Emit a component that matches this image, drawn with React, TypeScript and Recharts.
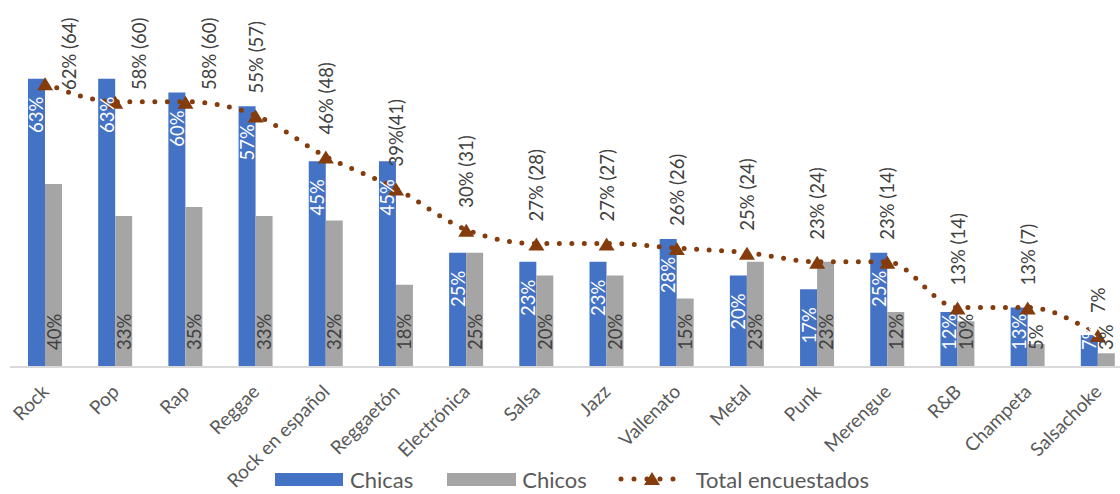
import { Bar, ComposedChart, LabelList, Line, XAxis, YAxis } from "recharts";

const categories = [
  "Rock",
  "Pop",
  "Rap",
  "Reggae",
  "Rock en español",
  "Reggaetón",
  "Electrónica",
  "Salsa",
  "Jazz",
  "Vallenato",
  "Metal",
  "Punk",
  "Merengue",
  "R&B",
  "Champeta",
  "Salsachoke",
];
const chicas = [63, 63, 60, 57, 45, 45, 25, 23, 23, 28, 20, 17, 25, 12, 13, 7];
const chicos = [40, 33, 35, 33, 32, 18, 25, 20, 20, 15, 23, 23, 12, 10, 5, 3];
const total = [62, 58, 58, 55, 46, 39, 30, 27, 27, 26, 25, 23, 23, 13, 13, 7];
const totalLabels = [
  "62% (64)",
  "58% (60)",
  "58% (60)",
  "55% (57)",
  "46% (48)",
  "39%(41)",
  "30% (31)",
  "27% (28)",
  "27% (27)",
  "26% (26)",
  "25% (24)",
  "23% (24)",
  "23% (14)",
  "13% (14)",
  "13% (7)",
  "7%",
];

const data = categories.map((name, i) => ({
  name,
  chicas: chicas[i],
  chicos: chicos[i],
  total: total[i],
  label: totalLabels[i],
}));

const FONT = "Lato, 'Open Sans', sans-serif";
const BLUE = "#4472C4";
const GRAY = "#A5A5A5";
const BROWN = "#843C0C";

// white % inside the top of the blue bars, dropped to the base when the bar is short
function ChicasLabel(props: any) {
  const { x, y, width, height, value } = props;
  const cx = x + width / 2;
  const fits = height > 72;
  const ty = fits ? y + 18 : y + height - 17;
  return (
    <text
      x={cx}
      y={ty}
      transform={`rotate(-90 ${cx} ${ty})`}
      textAnchor={fits ? "end" : "start"}
      dominantBaseline="central"
      fill="#ffffff"
      fontSize={18.5}
      fontFamily={FONT}
    >
      {`${value}%`}
    </text>
  );
}

function ChicosLabel(props: any) {
  const { x, y, width, height, value } = props;
  const cx = x + width / 2;
  const ty = y + height - 17;
  return (
    <text
      x={cx}
      y={ty}
      transform={`rotate(-90 ${cx} ${ty})`}
      textAnchor="start"
      dominantBaseline="central"
      fill="#404040"
      fontSize={18.5}
      fontFamily={FONT}
    >
      {`${value}%`}
    </text>
  );
}

// labels above the points; the tall ones get pushed down and beside the marker
function TotalLabel(props: any) {
  const { x, y, value } = props;
  const raw = y - 22;
  const clamped = raw < 90;
  const ty = clamped ? 90 : raw;
  const tx = clamped ? x + 24 : x;
  return (
    <text
      x={tx}
      y={ty}
      transform={`rotate(-90 ${tx} ${ty})`}
      textAnchor="start"
      dominantBaseline="central"
      fill="#404040"
      fontSize={18.5}
      fontFamily={FONT}
    >
      {value}
    </text>
  );
}

function Triangle(props: any) {
  const { cx, cy, index } = props;
  if (cx == null || cy == null) return <g key={index} />;
  return (
    <path
      key={index}
      d={`M${cx},${cy - 6} L${cx + 8},${cy + 7} L${cx - 8},${cy + 7} Z`}
      fill={BROWN}
    />
  );
}

function CategoryTick(props: any) {
  const { x, y, payload } = props;
  return (
    <g transform={`translate(${x + 5},${y + 26})`}>
      <text
        textAnchor="end"
        transform="rotate(-45)"
        fill="#595959"
        fontSize={19}
        fontFamily={FONT}
      >
        {payload.value}
      </text>
    </g>
  );
}

function ChartLegend() {
  const text = { fontSize: 22, color: "#595959", fontFamily: FONT };
  return (
    <div
      style={{
        position: "absolute",
        left: 275,
        top: 465,
        display: "flex",
        alignItems: "center",
        height: 28,
      }}
    >
      <span style={{ width: 68, height: 13, background: BLUE, marginRight: 7 }} />
      <span style={{ ...text, marginRight: 34 }}>Chicas</span>
      <span style={{ width: 69, height: 13, background: GRAY, marginRight: 6 }} />
      <span style={{ ...text, marginRight: 31 }}>Chicos</span>
      <svg width={70} height={20} style={{ marginRight: 8 }}>
        <line
          x1={3}
          y1={10}
          x2={67}
          y2={10}
          stroke={BROWN}
          strokeWidth={5}
          strokeDasharray="0 13"
          strokeLinecap="round"
        />
        <path d="M34,3 L42,16 L26,16 Z" fill={BROWN} />
      </svg>
      <span style={text}>Total encuestados</span>
    </div>
  );
}

export default function App() {
  return (
    <div
      style={{
        position: "absolute",
        left: 0,
        top: 0,
        width: 1120,
        height: 494,
        overflow: "hidden",
        background: "#ffffff",
      }}
    >
      <ComposedChart
        width={1136}
        height={494}
        data={data}
        margin={{ top: 1, right: 3, left: 10, bottom: 0 }}
        barGap={0}
      >
        <XAxis
          dataKey="name"
          interval={0}
          tickLine={false}
          tickSize={0}
          tickMargin={0}
          axisLine={{ stroke: "#D9D9D9", strokeWidth: 2 }}
          height={127}
          tick={(p: any) => <CategoryTick {...p} />}
        />
        <YAxis hide domain={[0, 80]} />
        <Bar dataKey="chicas" fill={BLUE} barSize={17} isAnimationActive={false}>
          <LabelList dataKey="chicas" content={ChicasLabel} />
        </Bar>
        <Bar dataKey="chicos" fill={GRAY} barSize={17} isAnimationActive={false}>
          <LabelList dataKey="chicos" content={ChicosLabel} />
        </Bar>
        <Line
          type="monotone"
          dataKey="total"
          stroke={BROWN}
          strokeWidth={5}
          strokeDasharray="0 12.5"
          strokeLinecap="round"
          dot={Triangle}
          activeDot={false}
          isAnimationActive={false}
        >
          <LabelList dataKey="label" content={TotalLabel} />
        </Line>
      </ComposedChart>
      <ChartLegend />
    </div>
  );
}
